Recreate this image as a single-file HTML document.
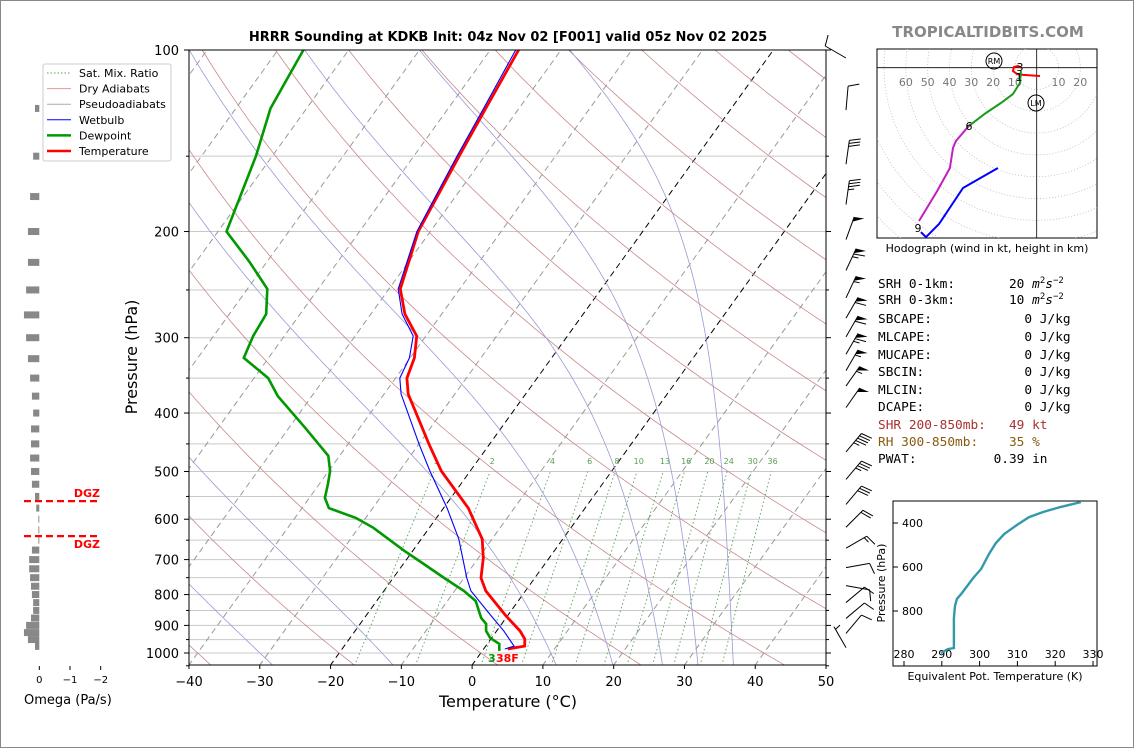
<!DOCTYPE html>
<html><head><meta charset="utf-8"><style>
html,body{margin:0;padding:0;background:#fff;}
#wrap{position:relative;width:1134px;height:748px;overflow:hidden;box-sizing:border-box;border:1px solid #888;}
svg text{font-family:"DejaVu Sans","Liberation Sans",sans-serif;}
.mono{font-family:"DejaVu Sans Mono","Liberation Mono",monospace;font-size:12.8px;white-space:pre;}
</style></head><body>
<div id="wrap">
<svg id="svg" width="1134" height="748" viewBox="0 0 1134 748" xmlns="http://www.w3.org/2000/svg">
<defs>
<clipPath id="plotclip"><rect x="188" y="49" width="637" height="615"/></clipPath>
<clipPath id="hodoclip"><rect x="876" y="48" width="220" height="189"/></clipPath>
<clipPath id="thclip"><rect x="892" y="500" width="204" height="165"/></clipPath>
</defs>
<text x="507" y="40" text-anchor="middle" font-size="13" font-weight="bold">HRRR Sounding at KDKB Init: 04z Nov 02 [F001] valid 05z Nov 02 2025</text>
<text x="987" y="36" text-anchor="middle" font-size="15" font-weight="bold" fill="#888">TROPICALTIDBITS.COM</text>
<g id="bg" clip-path="url(#plotclip)"></g>
<g id="prof" clip-path="url(#plotclip)"></g>
<rect x="188" y="49" width="637" height="615" fill="none" stroke="#000" stroke-width="1"/>
<g id="axes"></g>
<text x="136" y="356" transform="rotate(-90 136 356)" text-anchor="middle" font-size="16">Pressure (hPa)</text>
<text x="507" y="706" text-anchor="middle" font-size="16">Temperature (°C)</text>
<text x="487" y="661" font-size="11" font-weight="bold" fill="#009900">3</text>
<text x="495" y="661" font-size="11" font-weight="bold" fill="#ff0000">38F</text>
<g id="legend">
<rect x="42" y="63" width="128" height="97" fill="#fff" stroke="#ccc" rx="2"/>
</g>
<g id="omega"></g>
<text x="23" y="703" font-size="13">Omega (Pa/s)</text>
<g id="barbs"></g>
<g id="hodo"></g>
<text x="986" y="251" text-anchor="middle" font-size="11">Hodograph (wind in kt, height in km)</text>
<g id="thetae"></g>
<text x="994" y="679" text-anchor="middle" font-size="11">Equivalent Pot. Temperature (K)</text>
<text x="884" y="582" transform="rotate(-90 884 582)" text-anchor="middle" font-size="11">Pressure (hPa)</text>
<g>
<text class="mono" x="877" y="287" xml:space="preserve">SRH 0-1km:       20 <tspan font-style="italic">m</tspan><tspan dy="-5" font-size="9">2</tspan><tspan dy="5" font-style="italic">s</tspan><tspan dy="-5" font-size="9">−2</tspan></text>
<text class="mono" x="877" y="303" xml:space="preserve">SRH 0-3km:       10 <tspan font-style="italic">m</tspan><tspan dy="-5" font-size="9">2</tspan><tspan dy="5" font-style="italic">s</tspan><tspan dy="-5" font-size="9">−2</tspan></text>
<text class="mono" x="877" y="322" xml:space="preserve">SBCAPE:            0 J/kg</text>
<text class="mono" x="877" y="340" xml:space="preserve">MLCAPE:            0 J/kg</text>
<text class="mono" x="877" y="358" xml:space="preserve">MUCAPE:            0 J/kg</text>
<text class="mono" x="877" y="375" xml:space="preserve">SBCIN:             0 J/kg</text>
<text class="mono" x="877" y="393" xml:space="preserve">MLCIN:             0 J/kg</text>
<text class="mono" x="877" y="410" xml:space="preserve">DCAPE:             0 J/kg</text>
<text class="mono" x="877" y="428" fill="#a83232" xml:space="preserve">SHR 200-850mb:   49 kt</text>
<text class="mono" x="877" y="445" fill="#8a5a10" xml:space="preserve">RH 300-850mb:    35 %</text>
<text class="mono" x="877" y="462" xml:space="preserve">PWAT:          0.39 in</text>
</g>
</svg>
</div>
<script>
// ---- data ----
const tempP=[100,125,150,200,249,274,298,324,350,372,450,499,575,647,696,751,789,868,919,948,974,985];
const tempT=[-56.0,-54.7,-53.6,-51.7,-48.4,-45.2,-41.3,-39.4,-38.4,-36.6,-28.6,-24.1,-16.5,-11.4,-9.3,-7.6,-5.6,-0.2,3.3,4.8,5.5,3.4];
const dewP=[100,125,150,200,224,249,274,298,324,350,375,424,471,499,524,553,575,597,620,677,712,751,789,820,875,895,919,944,966,992];
const dewT=[-86.4,-85.1,-82.3,-78.8,-72.6,-67.2,-64.8,-64.4,-63.5,-58.0,-54.8,-47.6,-41.6,-39.8,-38.8,-37.8,-36.2,-31.4,-27.9,-21.2,-17.1,-12.8,-8.7,-6.0,-3.5,-2.2,-1.5,-0.2,1.7,2.4];
const wbP=[100,125,150,200,249,274,298,324,350,372,450,499,575,647,751,789,868,919,974,985];
const wbT=[-56.4,-55.0,-53.9,-51.9,-48.7,-45.6,-41.8,-40.1,-39.4,-37.6,-30.0,-25.7,-19.5,-14.7,-9.6,-7.7,-2.3,1.0,4.0,3.0];
const omegaP=[125,150,175,200,225,250,275,300,325,350,375,400,425,450,475,500,525,550,575,600,625,650,675,700,725,750,775,800,825,850,875,900,925,950,975];
const omegaV=[0.14,0.2,0.3,0.37,0.37,0.43,0.5,0.43,0.37,0.3,0.24,0.2,0.27,0.27,0.3,0.27,0.24,0.14,0.1,0.03,0.03,0.03,0.24,0.33,0.33,0.3,0.27,0.24,0.2,0.2,0.27,0.43,0.5,0.37,0.14];
const barbP=[100,122,150,175,200,225,250,270,290,310,330,350,380,450,500,550,600,650,700,750,800,850,900,950];
const barbDir=[300,5,8,8,20,25,25,30,30,30,30,35,35,40,40,40,45,60,80,100,50,50,40,330];
const barbSpd=[10,10,30,35,50,65,55,60,60,65,55,55,50,45,35,30,20,15,10,10,10,10,10,5];
const hodoRedU=[1.5,-6.3,-9,-10.9,-10.4,-8.6,-7.2];
const hodoRedV=[-3.8,-3.3,-2.9,-1.5,0.3,0.8,-0.1];
const hodoGreenU=[-7.2,-7.7,-10.9,-16.4,-23.3,-31.1];
const hodoGreenV=[-1.5,-7.0,-12.1,-16.2,-20.8,-26.7];
const hodoMagU=[-31.1,-37,-38.4,-39.8,-45.7,-54];
const hodoMagV=[-26.7,-33.6,-36.8,-46,-56.6,-70.3];
const hodoBlueU=[-53.1,-50.8,-44.8,-33.8,-17.8];
const hodoBlueV=[-75.4,-77.7,-71.7,-55.2,-46];
const thetaP=[305,327,350,373,405,450,491,541,609,650,723,745,777,832,905,968,973,991];
const thetaE=[326.8,321.5,316.8,313.1,310.2,306.5,304.3,302.5,300.4,298.3,295.1,294.0,293.5,293.2,293.2,293.2,291.6,289.8];
const xTicks=[-40,-30,-20,-10,0,10,20,30,40,50];
const yTickLabels=[100,200,300,400,500,600,700,800,900,1000];
const mixRatios=[1,2,4,6,8,10,13,16,20,24,30,36];
const moistStarts=[-60,-45,-28,-11,12,20,27,32,37];
const thTicksX=[280,290,300,310,320,330];
const thTicksY=[400,600,800];
const hodoRingLabels=[60,50,40,30,20,10];

// ---- scales ----
const NS='http://www.w3.org/2000/svg';
const X0=188,PXC=7.078,SKEW=0.72,YB=664;
function yP(p){return 49+603*Math.log10(p/100);}
function xT(T,p){return X0+(T+40)*PXC+(YB-yP(p))*SKEW;}
function mk(tag,attrs,parent){const e=document.createElementNS(NS,tag);for(const k in attrs)e.setAttribute(k,attrs[k]);parent.appendChild(e);return e;}
function pts(arrP,arrT){return arrP.map((p,i)=>xT(arrT[i],p).toFixed(1)+','+yP(p).toFixed(1)).join(' ');}
const bg=document.getElementById('bg'),prof=document.getElementById('prof'),axes=document.getElementById('axes');

for(let p=100;p<=1050;p+=50){const l=mk('line',{x1:188,x2:825,y1:yP(p),y2:yP(p),stroke:'#c8c8c8','stroke-width':1},bg);

}
for(let T=-120;T<=50;T+=10){const l=mk('line',{x1:xT(T,1050),y1:yP(1050),x2:xT(T,100),y2:yP(100),stroke:(T===0||T===-20)?'#000':'#999','stroke-width':1,'stroke-dasharray':'6,4'},bg);

}
for(let th=-40;th<=220;th+=20){let s=[];for(let p=1050;p>=100;p-=10){const T=(th+273.15)*Math.pow(p/1000,0.286)-273.15;s.push(xT(T,p).toFixed(1)+','+yP(p).toFixed(1));}
const l=mk('polyline',{points:s.join(' '),fill:'none',stroke:'#c88a8a','stroke-width':0.8},bg);

}
function rs(Tk,p){const Tc=Tk-273.15;const es=6.112*Math.exp(17.67*Tc/(Tc+243.5));return 0.622*es/Math.max(p-es,1);}
for(const T0 of moistStarts){let Tk=T0+273.15,s=[];for(let p=1050;p>=100;p-=2){s.push(xT(Tk-273.15,p).toFixed(1)+','+yP(p).toFixed(1));const r=rs(Tk,p);const d=(287*Tk+2.5e6*r)/(1004+2.5e6*2.5e6*r*0.622/(287*Tk*Tk))/p;Tk-=d*2;}
const l=mk('polyline',{points:s.join(' '),fill:'none',stroke:'#9a9ad6','stroke-width':0.8},bg);

}
function tdw(w,p){const e=w*p/(622+w);const a=Math.log(e/6.112);return 243.5*a/(17.67-a);}
mixRatios.forEach(w=>{const l=mk('line',{x1:xT(tdw(w,1050),1050),y1:yP(1050),x2:xT(tdw(w,500),500),y2:yP(500),stroke:'#55a055','stroke-width':0.9,'stroke-dasharray':'1.5,2.5'},bg);


const t=mk('text',{x:xT(tdw(w,490),490),y:yP(490)-2,'font-size':8,fill:'#55a055','text-anchor':'middle'},bg);t.textContent=w;

});

let pl=mk('polyline',{points:pts(dewP,dewT),fill:'none',stroke:'#009900','stroke-width':2.6},prof);


pl=mk('polyline',{points:pts(tempP,tempT),fill:'none',stroke:'#ff0000','stroke-width':2.8},prof);


pl=mk('polyline',{points:pts(wbP,wbT),fill:'none',stroke:'#0000ff','stroke-width':1.1},prof);



xTicks.forEach(v=>{const x=X0+(v+40)*PXC;const l=mk('line',{x1:x,x2:x,y1:664,y2:668,stroke:'#000'},axes);


const t=mk('text',{x:x,y:685,'font-size':13,'text-anchor':'middle'},axes);t.textContent=(v<0?'−':'')+Math.abs(v);

});
for(let p=100;p<=1050;p+=50){const y=yP(p);const major=yTickLabels.includes(p);
const l=mk('line',{x1:major?183:185,x2:188,y1:y,y2:y,stroke:'#000'},axes);


const r=mk('line',{x1:825,x2:major?830:828,y1:y,y2:y,stroke:'#000'},axes);

}
yTickLabels.forEach(p=>{const t=mk('text',{x:178,y:yP(p)+5,'font-size':13,'text-anchor':'end'},axes);t.textContent=p;

});

const lg=document.getElementById('legend');
[['Sat. Mix. Ratio','#55a055',1,'1.5,2'],['Dry Adiabats','#d99',1,''],['Pseudoadiabats','#aab',1,''],['Wetbulb','#0000ff',1,''],['Dewpoint','#009900',2.5,''],['Temperature','#ff0000',2.5,'']].forEach((e,i)=>{
const y=72+i*15.6;const l=mk('line',{x1:46,x2:70,y1:y,y2:y,stroke:e[1],'stroke-width':e[2],'stroke-dasharray':e[3]},lg);


const t=mk('text',{x:78,y:y+4,'font-size':11},lg);t.textContent=e[0];

});

const om=document.getElementById('omega');const O0=38.3,OPX=30.7;
omegaP.forEach((p,i)=>{const w=omegaV[i]*OPX;const r=mk('rect',{x:O0-w,y:yP(p)-3.5,width:w,height:7,fill:'#888'},om);

});
[[0,'0'],[-1,'−1'],[-2,'−2']].forEach(v=>{const x=O0-v[0]*OPX;const l=mk('line',{x1:x,x2:x,y1:665,y2:669,stroke:'#000'},om);


const t=mk('text',{x:x,y:682,'font-size':10,'text-anchor':'middle'},om);t.textContent=v[1];

});
[[560,-4],[640,12]].forEach(d=>{const y=yP(d[0]);const l=mk('line',{x1:23,x2:99,y1:y,y2:y,stroke:'#f00','stroke-width':2.2,'stroke-dasharray':'7,4'},om);


const t=mk('text',{x:99,y:y+d[1],'font-size':11,'font-weight':'bold',fill:'#f00','text-anchor':'end'},om);t.textContent='DGZ';

});

const bb=document.getElementById('barbs');
barbP.forEach((p,i)=>{const d=barbDir[i]*Math.PI/180;let s=barbSpd[i];const x0=845,y0=yP(p)+8;const L=24;
const ux=Math.sin(d),uy=-Math.cos(d);const px=-uy,py=ux;
const x1=x0+ux*L,y1=y0+uy*L;
const g=mk('g',{},bb);


mk('line',{x1:x0,y1:y0,x2:x1,y2:y1,stroke:'#000','stroke-width':1},g);
let pos=0;s=Math.round(s/5)*5;
while(s>=50){const ax=x1-ux*pos,ay=y1-uy*pos;const bx=x1-ux*(pos+5),by=y1-uy*(pos+5);
mk('polygon',{points:`${ax},${ay} ${ax+px*10+ux*2},${ay+py*10+uy*2} ${bx},${by}`,fill:'#000'},g);pos+=6;s-=50;}
while(s>=10){const ax=x1-ux*pos,ay=y1-uy*pos;mk('line',{x1:ax,y1:ay,x2:ax+px*11+ux*3,y2:ay+py*11+uy*3,stroke:'#000','stroke-width':1},g);pos+=3;s-=10;}
if(s>=5){if(pos===0)pos=3;const ax=x1-ux*pos,ay=y1-uy*pos;mk('line',{x1:ax,y1:ay,x2:ax+px*6+ux*1.5,y2:ay+py*6+uy*1.5,stroke:'#000','stroke-width':1},g);}
});

const hd=document.getElementById('hodo');const HX=1035.7,HY=66.7,HK=2.18;
const hf=mk('rect',{x:876,y:48,width:220,height:189,fill:'#fff',stroke:'#000'},hd);


const hg=mk('g',{'clip-path':'url(#hodoclip)'},hd);
for(let r=10;r<=100;r+=10){const c=mk('circle',{cx:HX,cy:HY,r:r*HK,fill:'none',stroke:'#bbb','stroke-width':0.8,'stroke-dasharray':'1,2'},hg);

}
let hl=mk('line',{x1:876,x2:1096,y1:HY,y2:HY,stroke:'#000','stroke-width':0.8},hg);


hl=mk('line',{x1:HX,x2:HX,y1:48,y2:237,stroke:'#000','stroke-width':0.8},hg);


hodoRingLabels.forEach(v=>{const t=mk('text',{x:HX-v*HK,y:85,'font-size':11,fill:'#777','text-anchor':'middle'},hg);t.textContent=v;

});
[10,20].forEach(v=>{const t=mk('text',{x:HX+v*HK,y:85,'font-size':11,fill:'#777','text-anchor':'middle'},hg);t.textContent=v;

});
function hp(U,V){return U.map((u,i)=>(HX+u*HK).toFixed(1)+','+(HY-V[i]*HK).toFixed(1)).join(' ');}
[[hodoRedU,hodoRedV,'#ff0000','hodo-0-1km'],[hodoGreenU,hodoGreenV,'#1a9a1a','hodo-1-6km'],[hodoMagU,hodoMagV,'#c020c0','hodo-6-9km'],[hodoBlueU,hodoBlueV,'#0000ff','hodo-9km-up']].forEach(s=>{
const l=mk('polyline',{points:hp(s[0],s[1]),fill:'none',stroke:s[2],'stroke-width':2},hg);

});
[['3',1019,70],['1',1018,80],['6',968,129],['9',917,231]].forEach(a=>{const t=mk('text',{x:a[1],y:a[2],'font-size':11,'text-anchor':'middle'},hg);t.textContent=a[0];

});
[['RM',993,60],['LM',1035,102]].forEach(a=>{const c=mk('circle',{cx:a[1],cy:a[2],r:8,fill:'none',stroke:'#000','stroke-width':1},hg);


const t=mk('text',{x:a[1],y:a[2]+3,'font-size':8,'text-anchor':'middle'},hg);t.textContent=a[0];

});

const te=document.getElementById('thetae');
function thx(v){return 903+(v-280)*3.78;}function thy(p){return 522+(p-400)*0.22;}
const tf=mk('rect',{x:892,y:500,width:204,height:165,fill:'#fff',stroke:'#000'},te);


thTicksX.forEach(v=>{const x=thx(v);const l=mk('line',{x1:x,x2:x,y1:665,y2:660,stroke:'#000'},te);


const t=mk('text',{x:x,y:657,'font-size':11,'text-anchor':'middle'},te);t.textContent=v;

});
thTicksY.forEach(v=>{const y=thy(v);const l=mk('line',{x1:892,x2:897,y1:y,y2:y,stroke:'#000'},te);


const t=mk('text',{x:901,y:y+4,'font-size':11},te);t.textContent=v;

});
const tl=mk('polyline',{points:thetaP.map((p,i)=>thx(thetaE[i]).toFixed(1)+','+thy(p).toFixed(1)).join(' '),fill:'none',stroke:'#3399aa','stroke-width':2.4,'clip-path':'url(#thclip)'},te);


</script>
</body></html>
